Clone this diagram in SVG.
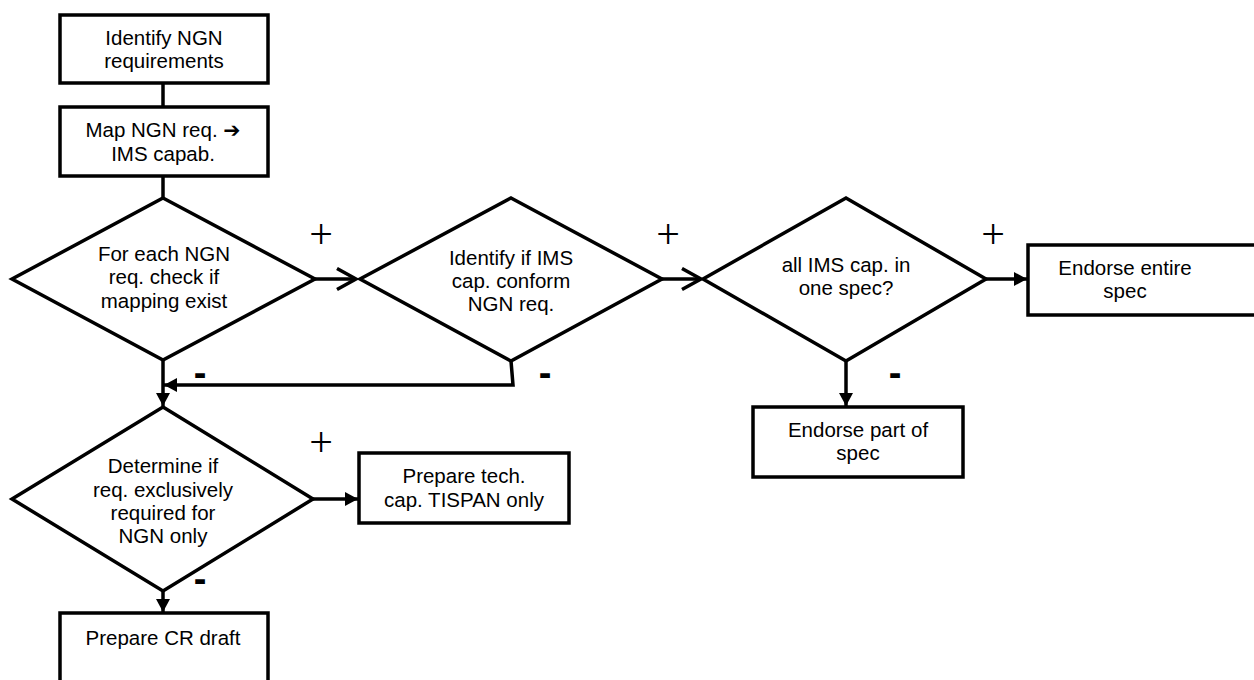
<svg xmlns="http://www.w3.org/2000/svg" width="1254" height="680" viewBox="0 0 1254 680">
<style>
.shape{fill:#fff;stroke:#000;stroke-width:3.5}
.conn{fill:none;stroke:#000;stroke-width:3.5}
.t{font-family:"Liberation Sans",Arial,sans-serif;font-size:20.5px;fill:#000;text-anchor:middle}
.plus{font-family:"Liberation Serif","Times New Roman",serif;font-size:42px;fill:#000;text-anchor:middle}
.minus{font-family:"Liberation Sans",Arial,sans-serif;font-size:38px;font-weight:bold;fill:#000;text-anchor:middle}
.arr{font-family:"DejaVu Sans",sans-serif;font-weight:bold}
</style>
<defs>
<marker id="fill" markerUnits="userSpaceOnUse" markerWidth="14" markerHeight="14" refX="13" refY="7" orient="auto">
<path d="M0,0 L13,7 L0,14 z" fill="#000"/>
</marker>
<marker id="open" markerUnits="userSpaceOnUse" markerWidth="24" markerHeight="26" refX="20" refY="12.5" orient="auto">
<path d="M1,2 L20,12.5 L1,23" fill="none" stroke="#000" stroke-width="3.5"/>
</marker>
</defs>
<rect width="1254" height="680" fill="#fff"/>
<g id="connectors">
<line class="conn" x1="163" y1="84" x2="163" y2="107"/>
<line class="conn" x1="163" y1="176" x2="163" y2="198"/>
<line class="conn" x1="315" y1="279" x2="356" y2="279" marker-end="url(#open)"/>
<line class="conn" x1="662" y1="279" x2="701" y2="279" marker-end="url(#open)"/>
<line class="conn" x1="986" y1="279" x2="1027" y2="279" marker-end="url(#fill)"/>
<line class="conn" x1="846" y1="361" x2="846" y2="406" marker-end="url(#fill)"/>
<polyline class="conn" points="511,361 513,385 164,385" marker-end="url(#fill)"/>
<line class="conn" x1="163" y1="360" x2="163" y2="406" marker-end="url(#fill)"/>
<line class="conn" x1="313" y1="499" x2="358" y2="499" marker-end="url(#fill)"/>
<line class="conn" x1="163" y1="591" x2="163" y2="612" marker-end="url(#fill)"/>
</g>
<g id="labels">
<text class="plus" x="321" y="248">+</text>
<text class="plus" x="668" y="248">+</text>
<text class="plus" x="993" y="248">+</text>
<text class="plus" x="321" y="456">+</text>
<text class="minus" x="200" y="386">-</text>
<text class="minus" x="545" y="386">-</text>
<text class="minus" x="895" y="386">-</text>
<text class="minus" x="200" y="592">-</text>
</g>
<g id="identify">
<rect class="shape" x="60" y="15" width="208" height="68"/>
<text class="t" x="164" y="45">Identify NGN</text>
<text class="t" x="164" y="68">requirements</text>
</g>
<g id="map">
<rect class="shape" x="60" y="107" width="208" height="69"/>
<text class="t" x="163" y="137">Map NGN req. <tspan class="arr">➔</tspan></text>
<text class="t" x="163" y="161">IMS capab.</text>
</g>
<g id="check">
<polygon class="shape" points="163,198 315,279 163,360 12,279"/>
<text class="t" x="164" y="261">For each NGN</text>
<text class="t" x="164" y="284">req. check if</text>
<text class="t" x="164" y="308">mapping exist</text>
</g>
<g id="conform">
<polygon class="shape" points="511,198 662,279 511,361 360,279"/>
<text class="t" x="511" y="265">Identify if IMS</text>
<text class="t" x="511" y="288">cap. conform</text>
<text class="t" x="511" y="311">NGN req.</text>
</g>
<g id="onespec">
<polygon class="shape" points="846,198 986,279 846,361 703,279"/>
<text class="t" x="846" y="272">all IMS cap. in</text>
<text class="t" x="846" y="295">one spec?</text>
</g>
<g id="entire">
<rect class="shape" x="1028" y="245" width="240" height="70"/>
<text class="t" x="1125" y="275">Endorse entire</text>
<text class="t" x="1125" y="298">spec</text>
</g>
<g id="part">
<rect class="shape" x="753" y="407" width="210" height="70"/>
<text class="t" x="858" y="437">Endorse part of</text>
<text class="t" x="858" y="460">spec</text>
</g>
<g id="exclusive">
<polygon class="shape" points="163,407 313,499 163,591 12,499"/>
<text class="t" x="163" y="473">Determine if</text>
<text class="t" x="163" y="497">req. exclusively</text>
<text class="t" x="163" y="520">required for</text>
<text class="t" x="163" y="543">NGN only</text>
</g>
<g id="tispan">
<rect class="shape" x="359" y="453" width="210" height="70"/>
<text class="t" x="464" y="483">Prepare tech.</text>
<text class="t" x="464" y="507">cap. TISPAN only</text>
</g>
<g id="crdraft">
<rect class="shape" x="60" y="613" width="208" height="100"/>
<text class="t" x="163" y="645">Prepare CR draft</text>
</g>
</svg>
